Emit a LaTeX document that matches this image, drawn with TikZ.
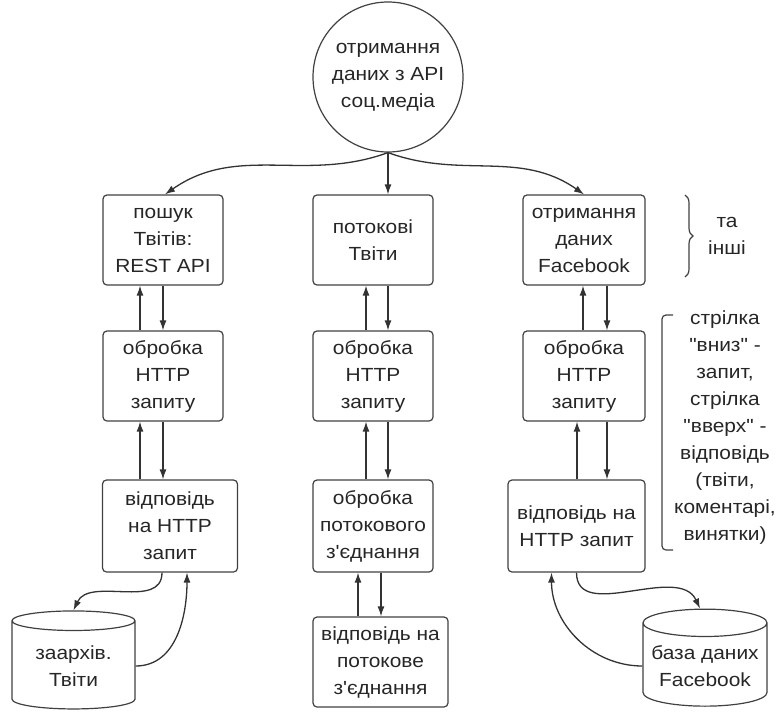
\documentclass[tikz,border=0pt]{standalone}
\usepackage{fontspec}
\newfontfamily\arialfont[FakeStretch=1.1]{Liberation Sans}
\usetikzlibrary{arrows.meta,shapes.geometric,decorations.pathreplacing}

\begin{document}
\begin{tikzpicture}[x=1pt,y=1pt,
  every node/.style={font=\arialfont\fontsize{19}{27}\selectfont, align=center, text=black!85},
  blok/.style={draw=black!75, rounded corners=4pt, line width=1.2pt, inner sep=1pt},
  baza/.style={draw=black!75, cylinder, shape border rotate=90, aspect=0.25, line width=1.2pt, inner sep=1pt},
  strilka/.style={-{Latex[length=10pt,width=7pt]}, line width=1.3pt, black!80}]
\useasboundingbox (0,0) rectangle (778,-717);

\node[draw=black!75, circle, minimum size=150pt, line width=1.2pt] (soc) at (388,-77) {отримання\\даних з API\\соц.медіа};

% twitter REST
\node[blok, minimum width=120pt, minimum height=90pt] (l1) at (163,-240) {пошук\\Твітів:\\REST API};
\node[blok, minimum width=120pt, minimum height=90pt] (l2) at (163,-376) {обробка\\HTTP\\запиту};
\node[blok, minimum width=135pt, minimum height=92pt] (l3) at (170,-526) {відповідь\\на HTTP\\запит};
\node[baza, minimum width=123pt, minimum height=98pt] (lb) at (73.5,-666) {заархів.\\Твіти};

% twitter streaming
\node[blok, minimum width=120pt, minimum height=90pt] (m1) at (373,-240) {потокові\\Твіти};
\node[blok, minimum width=120pt, minimum height=90pt] (m2) at (373,-376) {обробка\\HTTP\\запиту};
\node[blok, minimum width=120pt, minimum height=92pt] (m3) at (373,-526) {обробка\\потокового\\з'єднання};
\node[blok, minimum width=135pt, minimum height=90pt] (m4) at (380.5,-662) {відповідь на\\потокове\\з'єднання};

% facebook
\node[blok, minimum width=122pt, minimum height=90pt] (r1) at (584,-240) {отримання\\даних\\Facebook};
\node[blok, minimum width=122pt, minimum height=90pt] (r2) at (584,-376) {обробка\\HTTP\\запиту};
\node[blok, minimum width=137pt, minimum height=92pt] (r3) at (576.5,-526) {відповідь на\\HTTP запит};
\node[baza, minimum width=124pt, minimum height=97pt] (rb) at (705,-666) {база даних\\Facebook};

% notes
\node (inshi) at (727,-236) {та\\інші};
\draw[black!75, line width=1.2pt, decorate, decoration={brace, amplitude=8pt}] (685,-195) -- (685,-277);
\node (prymitka) at (725,-428) {стрілка\\"вниз" -\\запит,\\стрілка\\"вверх" -\\відповідь\\(твіти,\\коментарі,\\винятки)};
\draw[black!75, line width=1.2pt, rounded corners=4pt] (673,-315) -- (662,-315) -- (662,-550) -- (673,-550);

% from the root
\draw[strilka] (soc.south) -- (soc.south |- m1.north);
\draw[strilka] (soc.south) to[out=200,in=35] ([xshift=2]l1.north);
\draw[strilka] (soc.south) to[out=-20,in=145] (r1.north);

% left column
\draw[strilka] (l1.south) -- (l1.south |- l2.north);
\draw[strilka] ([xshift=-23]l1.south |- l2.north) -- ([xshift=-23]l1.south);
\draw[strilka] (l2.south) -- (l2.south |- l3.north);
\draw[strilka] ([xshift=-23]l2.south |- l3.north) -- ([xshift=-23]l2.south);
\draw[strilka] ([xshift=-8]l3.south) to[out=-90,in=65] (lb.north);
\draw[strilka] (lb.east) to[out=0,in=-90] ([xshift=17]l3.south);

% middle column
\draw[strilka] ([xshift=15]m1.south) -- ([xshift=15]m1.south |- m2.north);
\draw[strilka] ([xshift=-7]m1.south |- m2.north) -- ([xshift=-7]m1.south);
\draw[strilka] ([xshift=15]m2.south) -- ([xshift=15]m2.south |- m3.north);
\draw[strilka] ([xshift=-7]m2.south |- m3.north) -- ([xshift=-7]m2.south);
\draw[strilka] ([xshift=8]m3.south) -- ([xshift=8]m3.south |- m4.north);
\draw[strilka] ([xshift=-15]m3.south |- m4.north) -- ([xshift=-15]m3.south);

% right column
\draw[strilka] ([xshift=23]r1.south) -- ([xshift=23]r1.south |- r2.north);
\draw[strilka] ([xshift=-1]r1.south |- r2.north) -- ([xshift=-1]r1.south);
\draw[strilka] ([xshift=23]r2.south) -- ([xshift=23]r2.south |- r3.north);
\draw[strilka] ([xshift=-7]r2.south |- r3.north) -- ([xshift=-7]r2.south);
\draw[strilka] (r3.south) to[out=-90,in=115] ([xshift=-5]rb.north);
\draw[strilka] (rb.west) to[out=180,in=-90] ([xshift=-25]r3.south);
\end{tikzpicture}
\end{document}
